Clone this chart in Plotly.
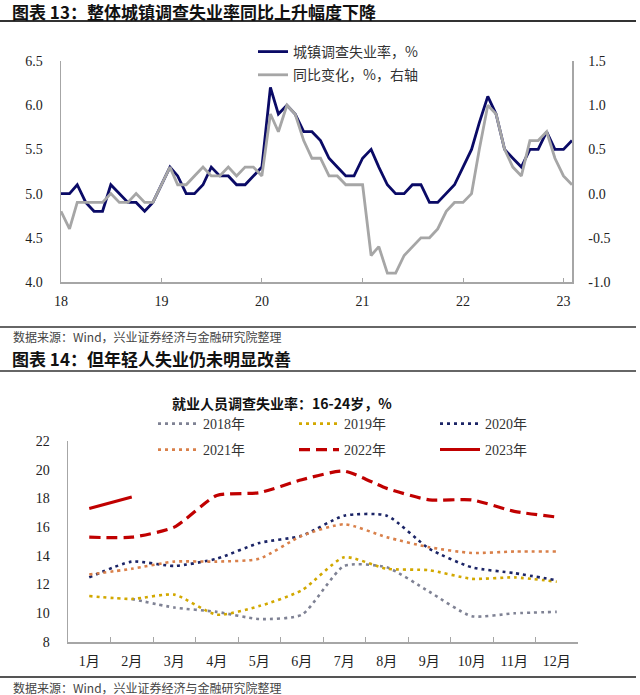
import plotly.graph_objects as go
import pandas as pd

# ---------------- Chart 13 data ----------------
months = pd.date_range("2018-01-01", periods=62, freq="MS")
urban_rate = [5.0, 5.0, 5.1, 4.9, 4.8, 4.8, 5.1, 5.0, 4.9, 4.9, 4.8, 4.9,
              5.1, 5.3, 5.2, 5.0, 5.0, 5.1, 5.3, 5.2, 5.2, 5.1, 5.1, 5.2,
              5.3, 6.2, 5.9, 6.0, 5.9, 5.7, 5.7, 5.6, 5.4, 5.3, 5.2, 5.2,
              5.4, 5.5, 5.3, 5.1, 5.0, 5.0, 5.1, 5.1, 4.9, 4.9, 5.0, 5.1,
              5.3, 5.5, 5.8, 6.1, 5.9, 5.5, 5.4, 5.3, 5.5, 5.5, 5.7, 5.5,
              5.5, 5.6]
yoy_change = [-0.2, -0.4, -0.1, -0.1, -0.1, -0.1, 0.0, -0.1, -0.1, 0.0, -0.1, -0.1,
              0.1, 0.3, 0.1, 0.1, 0.2, 0.3, 0.2, 0.2, 0.3, 0.2, 0.3, 0.3,
              0.2, 0.9, 0.7, 1.0, 0.9, 0.6, 0.4, 0.4, 0.2, 0.2, 0.1, 0.1,
              0.1, -0.7, -0.6, -0.9, -0.9, -0.7, -0.6, -0.5, -0.5, -0.4, -0.2, -0.1,
              -0.1, 0.0, 0.5, 1.0, 0.9, 0.5, 0.3, 0.2, 0.6, 0.6, 0.7, 0.4,
              0.2, 0.1]
year_ticks = pd.to_datetime(["2018-01-01", "2019-01-01", "2020-01-01",
                             "2021-01-01", "2022-01-01", "2023-01-01"])
year_labels = ["18", "19", "20", "21", "22", "23"]
left_ticks = [4.0, 4.5, 5.0, 5.5, 6.0, 6.5]
right_ticks = [-1.0, -0.5, 0.0, 0.5, 1.0, 1.5]
right_labels = ["-1.0", "-0.5", "0.0", "0.5", "1.0", "1.5"]

# ---------------- Chart 14 data ----------------
month_labels = ["1月", "2月", "3月", "4月", "5月", "6月",
                "7月", "8月", "9月", "10月", "11月", "12月"]
youth_2018 = [None, 11.0, 10.4, 10.1, 9.6, 9.9, 13.3, 13.2, 11.5, 9.8, 10.0, 10.1]
youth_2019 = [11.2, 11.0, 11.3, 9.9, 10.5, 11.6, 13.9, 13.1, 13.0, 12.4, 12.5, 12.2]
youth_2020 = [12.5, 13.6, 13.3, 13.8, 14.9, 15.4, 16.8, 16.8, 14.5, 13.2, 12.8, 12.3]
youth_2021 = [12.7, 13.1, 13.6, 13.6, 13.8, 15.4, 16.2, 15.3, 14.6, 14.2, 14.3, 14.3]
youth_2022 = [15.3, 15.3, 16.0, 18.2, 18.4, 19.3, 19.9, 18.7, 17.9, 17.9, 17.1, 16.7]
youth_2023 = [17.3, 18.1, None, None, None, None, None, None, None, None, None, None]

W, H = 640, 695
FONT = "Liberation Serif, Times New Roman, Noto Sans CJK SC"
CJK = "Noto Sans CJK SC, Liberation Serif"
AX = "#A6A6A6"


def px(v):
    return v / W


def py(v):
    return 1 - v / H


fig = go.Figure()

fig.add_trace(go.Scatter(x=months, y=urban_rate, name="城镇调查失业率，%", mode="lines",
                         line=dict(color="#0A0A66", width=2.8),
                         xaxis="x", yaxis="y", legend="legend", legendgroup="a"))
fig.add_trace(go.Scatter(x=months, y=yoy_change, name="同比变化，%，右轴", mode="lines",
                         line=dict(color="#A6A6A6", width=2.8),
                         xaxis="x", yaxis="y2", legend="legend", legendgroup="b"))

youth = [
    ("2018年", youth_2018, "#7F8294", "3px,4px", 2.6, "legend2"),
    ("2019年", youth_2019, "#D2A800", "3px,4px", 2.6, "legend2"),
    ("2020年", youth_2020, "#1B2466", "3px,4px", 2.6, "legend2"),
    ("2021年", youth_2021, "#D9804A", "3px,4px", 2.6, "legend3"),
    ("2022年", youth_2022, "#C00000", "11px,6px", 3.2, "legend3"),
    ("2023年", youth_2023, "#C00000", "solid", 3.0, "legend3"),
]
for name, vals, color, dash, wd, lg in youth:
    fig.add_trace(go.Scatter(x=month_labels, y=vals, name=name, mode="lines",
                             line=dict(color=color, width=wd, dash=dash, shape="spline", smoothing=0.6),
                             connectgaps=False, xaxis="x2", yaxis="y3", legend=lg))

tick_font = dict(size=14, family=FONT, color="#222222")
fig.update_layout(
    width=W, height=H,
    margin=dict(l=0, r=0, t=0, b=0, autoexpand=False),
    paper_bgcolor="white", plot_bgcolor="white",
    font=dict(family=FONT, size=14, color="#222222"),
    hovermode=False,
    xaxis=dict(domain=[px(61), px(572)], anchor="y", type="date", automargin=False,
               range=[months[0], months[-1]],
               tickvals=year_ticks, ticktext=year_labels,
               ticks="inside", ticklen=4, tickcolor=AX, tickwidth=1,
               showline=True, linecolor=AX, linewidth=1.5, showgrid=False, zeroline=False,
               tickfont=tick_font, ticklabelstandoff=6),
    yaxis=dict(domain=[py(282), py(61)], anchor="x", range=[4.0, 6.5], automargin=False,
               tickvals=left_ticks, tickformat=".1f",
               showline=True, linecolor=AX, linewidth=1.5, showgrid=False, zeroline=False,
               ticks="", tickfont=tick_font, ticklabelstandoff=14),
    yaxis2=dict(overlaying="y", side="right", anchor="x", range=[-1.0, 1.5], automargin=False,
                tickvals=right_ticks, ticktext=right_labels,
                showline=True, linecolor=AX, linewidth=1.5, showgrid=False, zeroline=False,
                ticks="", tickfont=tick_font, ticklabelstandoff=12),
    xaxis2=dict(domain=[px(68), px(578)], anchor="y3", type="category", automargin=False,
                range=[-0.5, 11.5],
                ticks="inside", tickson="boundaries", ticklen=5, tickcolor=AX, tickwidth=1,
                showline=True, linecolor=AX, linewidth=1.5, showgrid=False, zeroline=False,
                tickfont=tick_font, ticklabelstandoff=6),
    yaxis3=dict(domain=[py(642), py(441)], anchor="x2", range=[8, 22], dtick=2, automargin=False,
                showline=True, linecolor=AX, linewidth=1.5, showgrid=False, zeroline=False,
                ticks="", tickfont=tick_font, ticklabelstandoff=14),
    legend=dict(x=px(253), y=py(36), xanchor="left", yanchor="top", orientation="v",
                bgcolor="rgba(0,0,0,0)", font=dict(size=14, family=CJK, color="#333333"),
                tracegroupgap=2, itemwidth=30),
    legend2=dict(x=px(153), y=py(408), xanchor="left", yanchor="top", orientation="h",
                 bgcolor="rgba(0,0,0,0)", font=dict(size=14, family=FONT, color="#333333"),
                 entrywidth=86, itemwidth=40),
    legend3=dict(x=px(153), y=py(434), xanchor="left", yanchor="top", orientation="h",
                 bgcolor="rgba(0,0,0,0)", font=dict(size=14, family=FONT, color="#333333"),
                 entrywidth=86, itemwidth=40),
)

title_font = dict(family=CJK, size=17, color="#111111", weight="bold")
src_font = dict(family=CJK, size=12, color="#444444")
annos = [
    dict(text="图表 13：整体城镇调查失业率同比上升幅度下降", x=px(10), y=py(11), font=title_font),
    dict(text="数据来源：Wind，兴业证券经济与金融研究院整理", x=px(11), y=py(336), font=src_font),
    dict(text="图表 14：但年轻人失业仍未明显改善", x=px(10), y=py(358), font=title_font),
    dict(text="就业人员调查失业率：16-24岁，%", x=px(170), y=py(403),
         font=dict(family=CJK, size=14, color="#111111", weight="bold")),
    dict(text="数据来源：Wind，兴业证券经济与金融研究院整理", x=px(11), y=py(687), font=src_font),
]
for a in annos:
    fig.add_annotation(xref="paper", yref="paper", xanchor="left", yanchor="middle",
                       showarrow=False, **a)

for yy, col, wd in [(21, "#333333", 1.8), (327, "#333333", 1.5), (371, "#333333", 1.5), (677, "#555555", 2)]:
    fig.add_shape(type="line", xref="paper", yref="paper", x0=0, x1=px(636), y0=py(yy), y1=py(yy),
                  line=dict(color=col, width=wd))

# remove the default 8px page margin so the 640x695 figure fills the window
fig.write_html("out.html",
               config={"displayModeBar": False, "staticPlot": True},
               post_script="document.body.style.margin='0px';document.body.style.overflow='hidden';")
